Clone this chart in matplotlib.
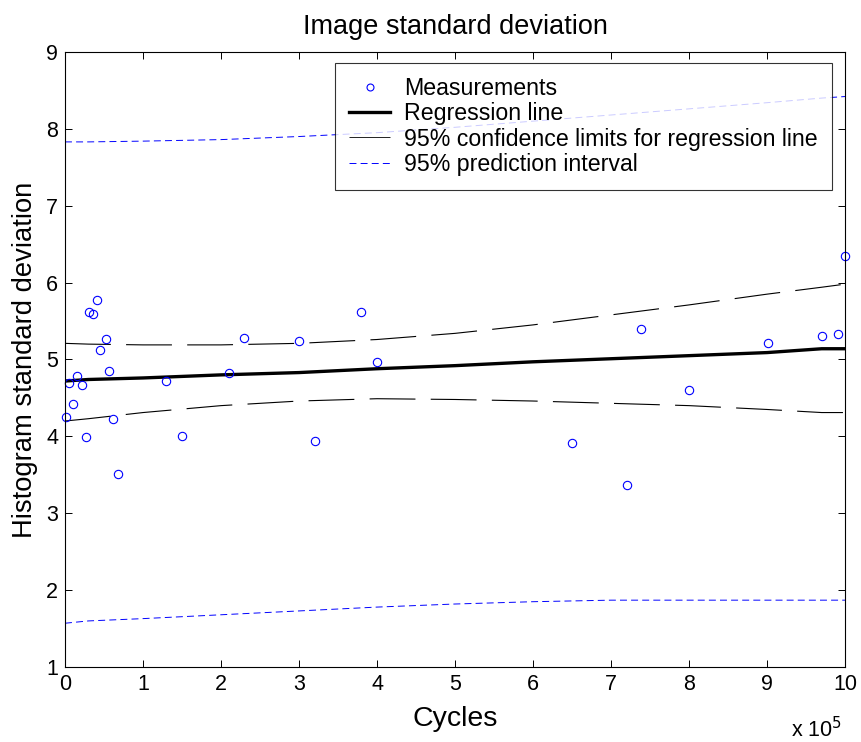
import numpy as np
import matplotlib
matplotlib.use("Agg")
from matplotlib import pyplot as plt
from matplotlib.lines import Line2D

plt.rcParams['font.family'] = ['Liberation Sans', 'DejaVu Sans']
plt.rcParams['lines.scale_dashes'] = False

# measurements (cycles in units of 1e5)
meas_x = [0.01, 0.055, 0.10, 0.15, 0.22, 0.265, 0.31, 0.355, 0.405, 0.45, 0.52, 0.56,
          0.61, 0.68, 1.30, 1.50, 2.10, 2.30, 3.00, 3.20, 3.80, 4.00, 6.50, 7.21,
          7.39, 8.00, 9.01, 9.70, 9.91, 10.0]
meas_y = [4.25, 4.69, 4.42, 4.79, 4.67, 3.99, 5.62, 5.59, 5.78, 5.12, 5.27, 4.85,
          4.23, 3.51, 4.72, 4.00, 4.82, 5.28, 5.24, 3.94, 5.62, 4.97, 3.92, 3.37,
          5.40, 4.60, 5.21, 5.31, 5.33, 6.34]

# regression line and bands, read at a few x positions
band_x = [0.0, 0.3, 1.0, 2.0, 3.0, 4.0, 5.0, 6.0, 7.0, 8.0, 9.0, 9.7, 10.0]
reg_y = [4.72, 4.74, 4.76, 4.80, 4.83, 4.88, 4.92, 4.97, 5.01, 5.05, 5.09, 5.14, 5.14]
ci_hi = [5.21, 5.20, 5.19, 5.19, 5.21, 5.26, 5.34, 5.45, 5.58, 5.71, 5.85, 5.94, 5.98]
ci_lo = [4.20, 4.23, 4.31, 4.40, 4.46, 4.49, 4.48, 4.46, 4.43, 4.40, 4.35, 4.31, 4.31]
pi_hi = [7.83, 7.83, 7.84, 7.86, 7.90, 7.95, 8.02, 8.10, 8.18, 8.26, 8.34, 8.40, 8.42]
pi_lo = [1.57, 1.60, 1.63, 1.68, 1.73, 1.78, 1.82, 1.85, 1.87, 1.87, 1.87, 1.87, 1.87]

fig = plt.figure(figsize=(8.62, 7.42), dpi=100)
ax = fig.add_axes([0.0754, 0.101, 0.905, 0.829])

ax.plot(band_x, pi_hi, color='blue', lw=0.7, dashes=(5, 3))
ax.plot(band_x, pi_lo, color='blue', lw=0.7, dashes=(5, 3))
ax.plot(band_x, ci_hi, color='black', lw=0.8, dashes=(33, 11))
ax.plot(band_x, ci_lo, color='black', lw=0.8, dashes=(33, 11))
ax.plot(band_x, reg_y, color='black', lw=2.4)
ax.plot(meas_x, meas_y, 'o', mfc='none', mec='blue', ms=6, mew=0.8, clip_on=False)

ax.set_xlim(0, 10)
ax.set_ylim(1, 9)
ax.set_xticks(range(0, 11))
ax.set_yticks(range(1, 10))
ax.tick_params(direction='in', top=True, right=True, length=5, width=0.7,
               labelsize=15.5, pad=5)
for s in ax.spines.values():
    s.set_linewidth(0.8)

ax.set_title('Image standard deviation', fontsize=19.5, pad=13)
ax.set_xlabel('Cycles', fontsize=20.5, labelpad=8)
ax.set_ylabel('Histogram standard deviation', fontsize=19.7, labelpad=6)
fig.text(0.918, 0.0, r'x 10$^5$', fontsize=15.5, ha='left', va='bottom')

handles = [
    Line2D([], [], ls='none', marker='o', mfc='none', mec='blue', ms=5, mew=0.8),
    Line2D([], [], color='black', lw=2.4),
    Line2D([], [], color='black', lw=0.6, solid_capstyle='butt'),
    Line2D([], [], color='blue', lw=0.7, dashes=(5, 3)),
]
labels = ['Measurements', 'Regression line',
          '95% confidence limits for regression line', '95% prediction interval']
leg = ax.legend(handles, labels, loc='upper right', bbox_to_anchor=(0.983, 0.982),
                fontsize=16.7, frameon=True, fancybox=False, edgecolor='black',
                borderpad=0.6, labelspacing=0.1, handlelength=1.8, handletextpad=0.6,
                borderaxespad=0)
leg.get_frame().set_linewidth(0.8)

fig.savefig('out.png', dpi=100)
